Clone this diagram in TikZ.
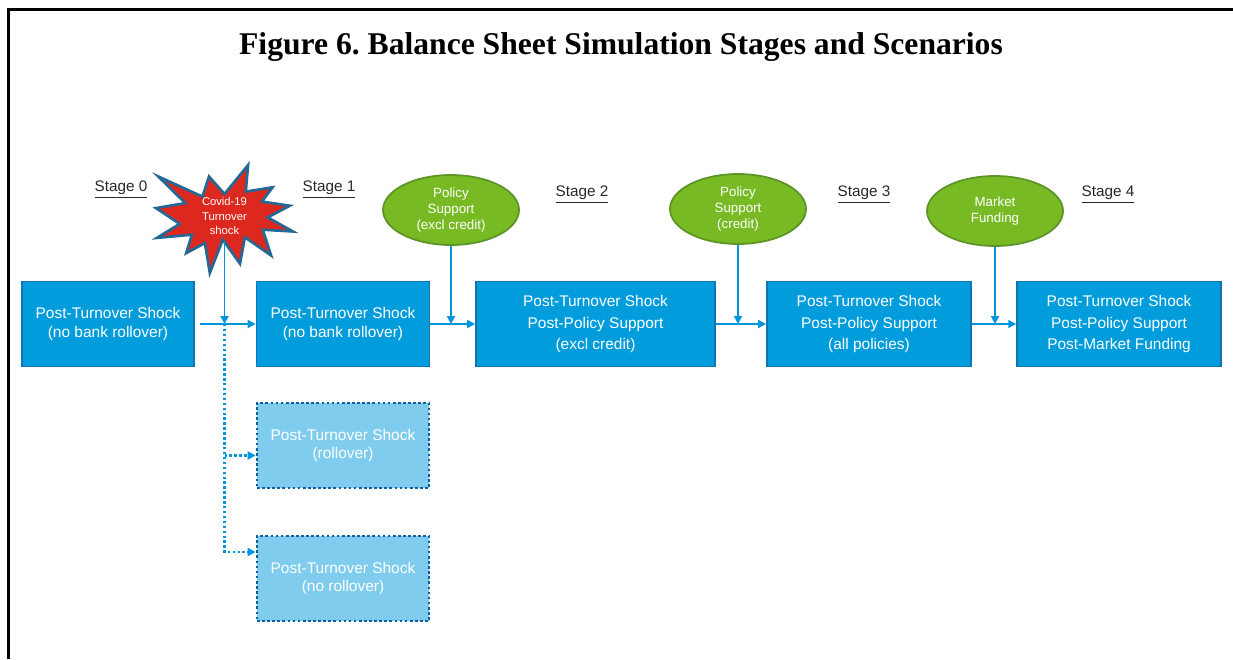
\documentclass[tikz,border=0pt]{standalone}
\usepackage{fontspec}
\setmainfont{Liberation Serif}
\newfontfamily\arial{Liberation Sans}
\usetikzlibrary{shapes.geometric,arrows.meta}
\frenchspacing

\definecolor{boxblue}{RGB}{0,156,219}
\definecolor{boxline}{RGB}{16,116,176}
\definecolor{paleblue}{RGB}{127,204,238}
\definecolor{paleline}{RGB}{14,96,160}
\definecolor{leaf}{RGB}{120,186,36}
\definecolor{leafline}{RGB}{92,148,40}
\definecolor{burstred}{RGB}{220,40,30}
\definecolor{burstline}{RGB}{36,104,150}
\definecolor{arrowblue}{RGB}{0,150,220}
\definecolor{stagegray}{RGB}{40,40,40}

\tikzset{
    stagebox/.style={rectangle, fill=boxblue, draw=boxline, line width=1pt, minimum height=1.7cm, inner sep=0pt, text=white, align=center, font=\arial\fontsize{8.8}{10.8}\selectfont},
    tallbox/.style={stagebox, font=\arial\fontsize{8.8}{12.4}\selectfont},
    altbox/.style={stagebox, fill=paleblue, draw=paleline, line width=1.6pt, dash pattern=on 1.5pt off 1.4pt, minimum width=3.44cm},
    support/.style={ellipse, fill=leaf, draw=leafline, line width=1pt, minimum width=2.72cm, minimum height=1.4cm, inner sep=0pt, text=white, align=center, font=\arial\fontsize{7.6}{9}\selectfont},
    stagelabel/.style={text=stagegray, font=\arial\fontsize{8.7}{10}\selectfont},
    flow/.style={draw=arrowblue, line width=1.1pt, -{Triangle[length=4.5pt,width=4.5pt]}},
    dotflow/.style={flow, line width=1.4pt, dash pattern=on 1.4pt off 1.4pt}
}

\begin{document}
\begin{tikzpicture}[x=0.02cm, y=-0.02cm]
    \useasboundingbox (0,0) rectangle (1233,659);
    \draw [line width=1.7pt] (8.5,659) -- (8.5,9.5) -- (1233,9.5);

    \node (title) [font=\bfseries\fontsize{18}{21}\selectfont] at (621,47) {Figure 6. Balance Sheet Simulation Stages and Scenarios};

    \node (s0) [stagelabel] at (121,190) {\underline{Stage 0}};
    \node (s1) [stagelabel] at (329,190) {\underline{Stage 1}};
    \node (s2) [stagelabel] at (582,195) {\underline{Stage 2}};
    \node (s3) [stagelabel] at (864,195) {\underline{Stage 3}};
    \node (s4) [stagelabel] at (1108,195) {\underline{Stage 4}};

    \draw [fill=burstred, draw=burstline, line width=1.5pt, line join=miter] (224.5,194) -- (248.1,165) -- (245.8,191.6) -- (272.6,187.3) -- (261.9,201.6) -- (289.8,205.7) -- (267.7,217.4) -- (293,231.5) -- (262.8,229.7) -- (271.1,255.5) -- (244.9,237.3) -- (240,263.7) -- (222.8,239.7) -- (209.8,273) -- (204.9,243.1) -- (186.2,253.1) -- (191.9,234.7) -- (156.9,237.9) -- (179.6,223.9) -- (156,208.1) -- (185.3,203.1) -- (158.3,176.5) -- (202.4,196.6) -- (209,176.5) -- cycle;
    \node (shock) [text=white, align=center, font=\arial\fontsize{6.4}{8.2}\selectfont] at (224.5,216) {Covid-19\\Turnover\\shock};

    \node (A) [stagebox, minimum width=3.44cm] at (108,324) {Post-Turnover Shock\\(no bank rollover)};
    \node (B) [stagebox, minimum width=3.46cm] at (343,324) {Post-Turnover Shock\\(no bank rollover)};
    \node (C) [tallbox, minimum width=4.78cm] at (595.5,324) {Post-Turnover Shock\\Post-Policy Support\\(excl credit)};
    \node (D) [tallbox, minimum width=4.08cm] at (869,324) {Post-Turnover Shock\\Post-Policy Support\\(all policies)};
    \node (E) [tallbox, minimum width=4.08cm] at (1119,324) {Post-Turnover Shock\\Post-Policy Support\\Post-Market Funding};
    \node (F) [altbox] at (343,445.5) {Post-Turnover Shock\\(rollover)};
    \node (G) [altbox] at (343,578.5) {Post-Turnover Shock\\(no rollover)};

    \node (P1) [support] at (451,210) {Policy\\Support\\(excl credit)};
    \node (P2) [support] at (738,209) {Policy\\Support\\(credit)};
    \node (M) [support] at (995,211) {Market\\Funding};

    \coordinate (j0) at (shock |- A.east);
    \coordinate (f0) at ([yshift=-0.2cm]F.west);
    \coordinate (g0) at ([yshift=0.53cm]G.west);

    \draw [flow, shorten <=0.1cm] (A) -- (B);
    \draw [flow] (shock) -- (j0);
    \draw [flow] (B) -- (C);
    \draw [flow] (P1) -- (P1 |- B.east);
    \draw [flow] (C) -- (D);
    \draw [flow] (P2) -- (P2 |- C.east);
    \draw [flow] (D) -- (E);
    \draw [flow] (M) -- (M |- D.east);
    \draw [dotflow] (j0) |- (g0);
    \draw [dotflow] (f0 -| j0) -- (f0);
\end{tikzpicture}
\end{document}
